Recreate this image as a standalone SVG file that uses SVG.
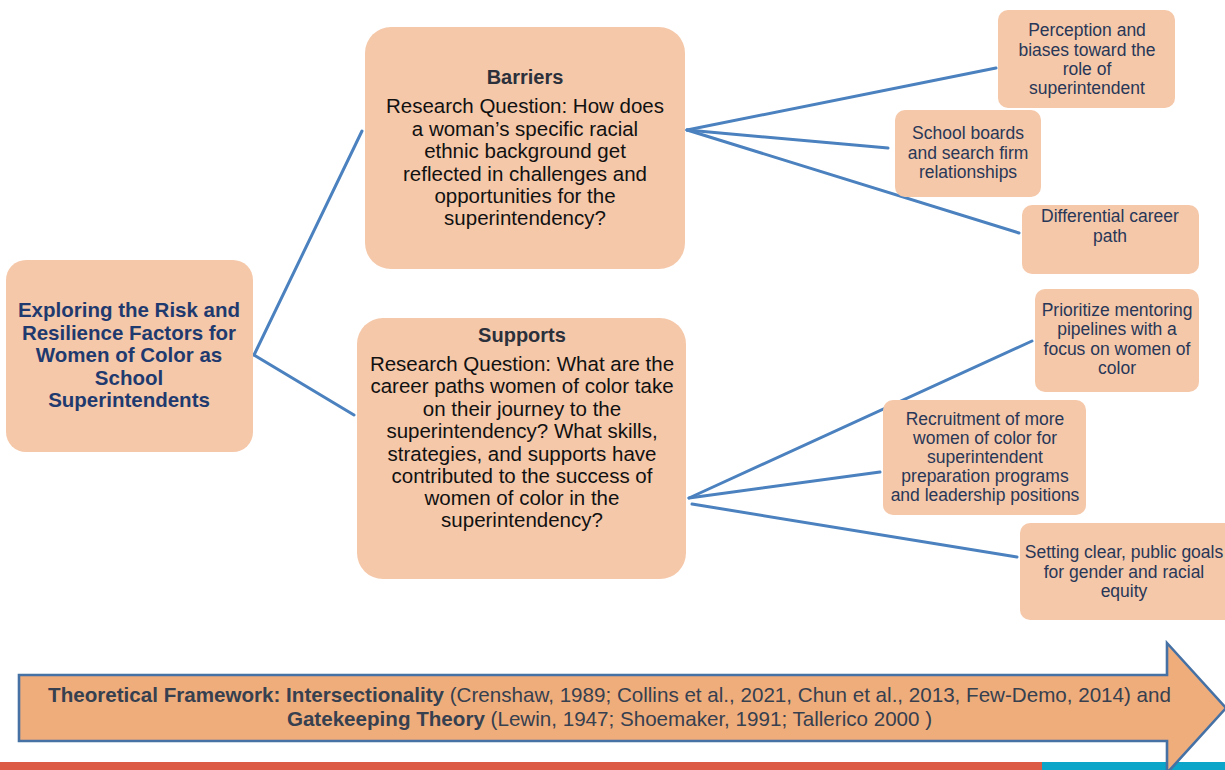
<svg xmlns="http://www.w3.org/2000/svg" width="1225" height="770" viewBox="0 0 1225 770">
<style>
.box{fill:#F5C8AA;}
.ln{stroke:#4A81BE;stroke-width:3;fill:none;stroke-linecap:round;}
text{font-family:"Liberation Sans",Arial,sans-serif;text-anchor:middle;}
.main{font-size:20.5px;font-weight:bold;fill:#1F3A6E;}
.hd{font-size:20px;font-weight:bold;fill:#2B303B;}
.rq{font-size:20.5px;fill:#111111;}
.sm{font-size:17.5px;fill:#283757;}
.fw{font-size:20.6px;fill:#36404F;}
.b{font-weight:bold;}
</style>
<rect width="1225" height="770" fill="#FFFFFF"/>
<g id="bottom-bar">
<rect x="0" y="762" width="1042" height="8" fill="#DC5B45"/>
<rect x="1042" y="762" width="183" height="8" fill="#0BA5C9"/>
</g>
<g id="connectors">
<line class="ln" x1="254" y1="355" x2="362" y2="131"/>
<line class="ln" x1="254" y1="355" x2="354" y2="415"/>
<line class="ln" x1="687" y1="130" x2="996" y2="68"/>
<line class="ln" x1="687" y1="130" x2="888" y2="148"/>
<line class="ln" x1="687" y1="130" x2="1019" y2="233"/>
<line class="ln" x1="689" y1="498" x2="1032" y2="341"/>
<line class="ln" x1="689" y1="498" x2="880" y2="472"/>
<line class="ln" x1="692" y1="504" x2="1017" y2="557"/>
</g>
<g id="main">
<rect class="box" x="6" y="260" width="247" height="192" rx="20"/>
<text class="main"><tspan x="129" y="317">Exploring the Risk and</tspan><tspan x="129" y="339.5">Resilience Factors for</tspan><tspan x="129" y="362">Women of Color as</tspan><tspan x="129" y="384.5">School</tspan><tspan x="129" y="407">Superintendents</tspan></text>
</g>
<g id="barriers">
<rect class="box" x="365" y="27" width="320" height="242" rx="26"/>
<text class="hd" x="525" y="84">Barriers</text>
<text class="rq"><tspan x="525" y="113">Research Question: How does</tspan><tspan x="525" y="135.5">a woman’s specific racial</tspan><tspan x="525" y="158">ethnic background get</tspan><tspan x="525" y="180.5">reflected in challenges and</tspan><tspan x="525" y="203">opportunities for the</tspan><tspan x="525" y="225">superintendency?</tspan></text>
</g>
<g id="supports">
<rect class="box" x="357" y="318" width="329" height="261" rx="26"/>
<text class="hd" x="522" y="342">Supports</text>
<text class="rq"><tspan x="522" y="371">Research Question: What are the</tspan><tspan x="522" y="393">career paths women of color take</tspan><tspan x="522" y="415.5">on their journey to the</tspan><tspan x="522" y="438">superintendency? What skills,</tspan><tspan x="522" y="460.5">strategies, and supports have</tspan><tspan x="522" y="482.5">contributed to the success of</tspan><tspan x="522" y="505">women of color in the</tspan><tspan x="522" y="527">superintendency?</tspan></text>
</g>
<g id="perception">
<rect class="box" x="998" y="10" width="177" height="98" rx="10"/>
<text class="sm"><tspan x="1087" y="36">Perception and</tspan><tspan x="1087" y="55.5">biases toward the</tspan><tspan x="1087" y="75">role of</tspan><tspan x="1087" y="94">superintendent</tspan></text>
</g>
<g id="school-boards">
<rect class="box" x="895" y="110" width="146" height="87" rx="10"/>
<text class="sm"><tspan x="968" y="139">School boards</tspan><tspan x="968" y="158.5">and search firm</tspan><tspan x="968" y="178">relationships</tspan></text>
</g>
<g id="differential">
<rect class="box" x="1022" y="205" width="177" height="69" rx="10"/>
<text class="sm"><tspan x="1110" y="222">Differential career</tspan><tspan x="1110" y="242">path</tspan></text>
</g>
<g id="mentoring">
<rect class="box" x="1035" y="289" width="164" height="103" rx="10"/>
<text class="sm"><tspan x="1117" y="316">Prioritize mentoring</tspan><tspan x="1117" y="335">pipelines with a</tspan><tspan x="1117" y="354.5">focus on women of</tspan><tspan x="1117" y="373.5">color</tspan></text>
</g>
<g id="recruitment">
<rect class="box" x="883" y="400" width="203" height="115" rx="10"/>
<text class="sm"><tspan x="985" y="424.5">Recruitment of more</tspan><tspan x="985" y="443.5">women of color for</tspan><tspan x="985" y="462.5">superintendent</tspan><tspan x="985" y="482">preparation programs</tspan><tspan x="985" y="501">and leadership positions</tspan></text>
</g>
<g id="goals">
<rect class="box" x="1020" y="523" width="215" height="97" rx="10"/>
<text class="sm"><tspan x="1124" y="558">Setting clear, public goals</tspan><tspan x="1124" y="577.5">for gender and racial</tspan><tspan x="1124" y="596.5">equity</tspan></text>
</g>
<g id="framework">
<path d="M19,675 L1167,675 L1167,643 L1226,708 L1167,773 L1167,741 L19,741 Z" fill="#F0AD7C" stroke="#4571A5" stroke-width="2.6" stroke-linejoin="miter"/>
<text class="fw"><tspan x="609.5" y="701.5"><tspan class="b">Theoretical Framework: Intersectionality</tspan> (Crenshaw, 1989; Collins et al., 2021, Chun et al., 2013, Few-Demo, 2014) and</tspan><tspan x="609.5" y="726"><tspan class="b">Gatekeeping Theory</tspan> (Lewin, 1947; Shoemaker, 1991; Tallerico 2000 )</tspan></text>
</g>
</svg>
